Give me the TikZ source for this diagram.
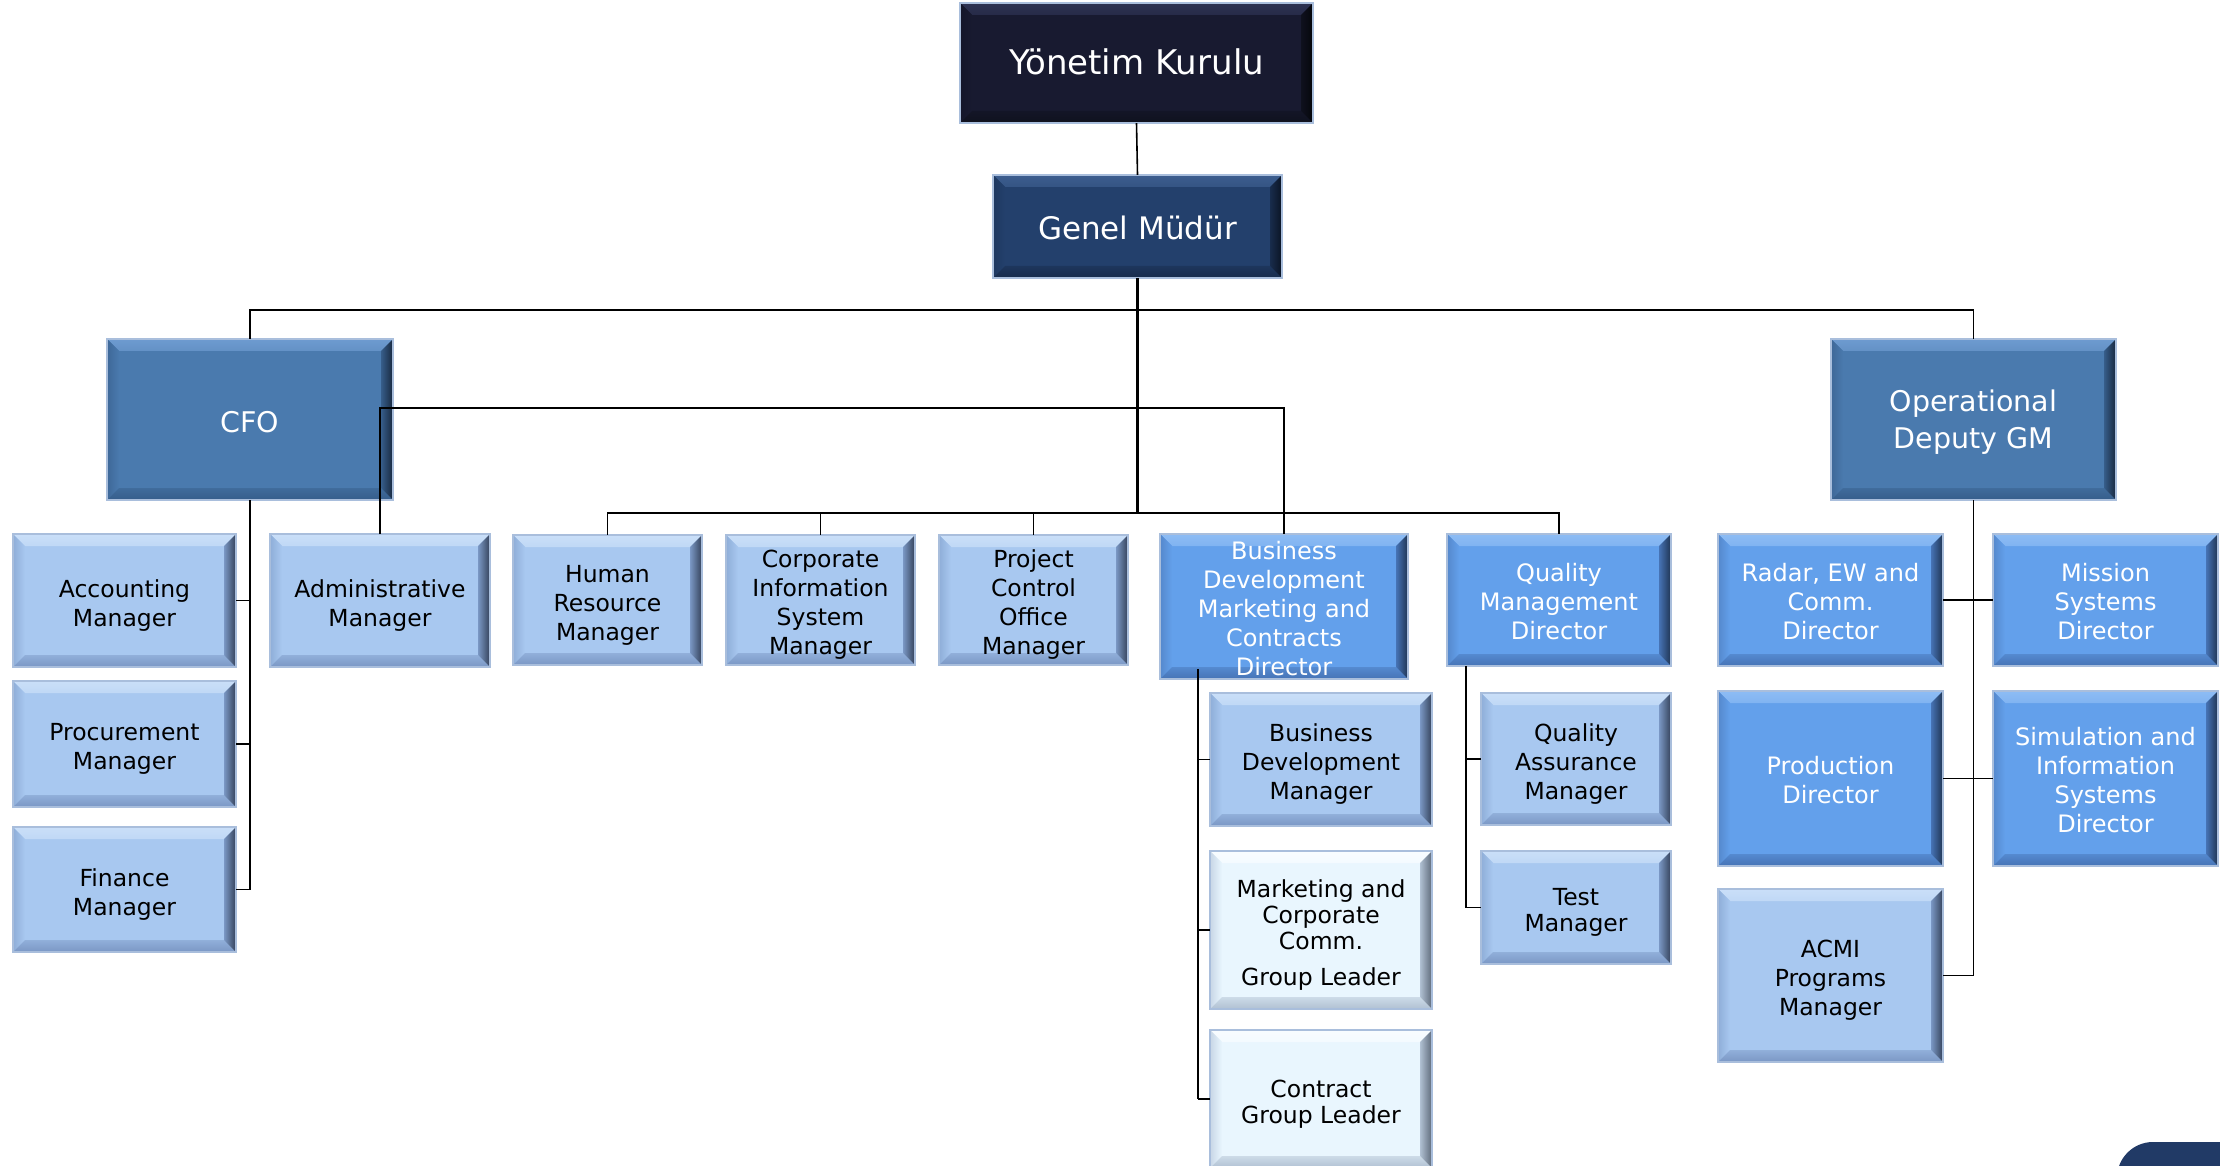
\documentclass[tikz,border=0pt]{standalone}
\usepackage{fontspec}
\setmainfont{DejaVu Sans}
\newcommand\mkcols[6]{%
  \definecolor{#1}{HTML}{#2}\definecolor{#1T}{HTML}{#3}%
  \definecolor{#1L}{HTML}{#4}\definecolor{#1B}{HTML}{#5}\definecolor{#1R}{HTML}{#6}}
\mkcols{yk}{181A30}{2D3252}{14162A}{0F111E}{05060B}
\mkcols{gm}{23406C}{3C5D8E}{1E3860}{182C4C}{0B1424}
\mkcols{md}{4A7AAE}{6E9BD0}{3E6898}{365D8A}{18283E}
\mkcols{lt}{A8C8F0}{CADFF8}{8FAED8}{7A97C4}{34425A}
\mkcols{bl}{63A0EB}{8DBCF4}{5588CC}{4673B5}{1F3452}
\mkcols{vl}{E9F6FE}{F8FCFF}{C8D6E6}{B0C0D2}{5E6A7A}
\definecolor{edgeC}{HTML}{A9BEDC}
\definecolor{navyC}{HTML}{213A66}
\def\bv{12}
% #1 name, #2 x1, #3 y1, #4 x2, #5 y2, #6 colour set, #7 text style, #8 text
\newcommand\bevbox[8]{%
  \fill[#6] (#2,#3) rectangle (#4,#5);
  \shade[top color=#6T, bottom color=#6T!70!#6] (#2,#3) -- (#4,#3) -- ({#4-\bv},{#3+\bv}) -- ({#2+\bv},{#3+\bv}) -- cycle;
  \shade[left color=#6L, right color=#6] (#2,#3) -- ({#2+\bv},{#3+\bv}) -- ({#2+\bv},{#5-\bv}) -- (#2,#5) -- cycle;
  \shade[top color=#6B!50!#6, bottom color=#6B] (#2,#5) -- ({#2+\bv},{#5-\bv}) -- ({#4-\bv},{#5-\bv}) -- (#4,#5) -- cycle;
  \shade[left color=#6B, right color=#6R] (#4,#3) -- ({#4-\bv},{#3+\bv}) -- ({#4-\bv},{#5-\bv}) -- (#4,#5) -- cycle;
  \draw[boxline] (#2,#3) rectangle (#4,#5);
  \node[boxnode, minimum width={#4-#2}, minimum height={#5-#3}] (#1) at ({(#2+#4)/2},{(#3+#5)/2}) {};
  \node[align=center, inner sep=0pt, #7] at (#1.center) {#8};
}
\tikzset{
  wire/.style={draw=black, line width=1.6pt},
  boxline/.style={draw=edgeC, line width=1.2pt},
  boxnode/.style={rectangle, inner sep=0pt},
  bigw/.style={text=white, font=\fontsize{34}{40}\selectfont, yshift=1pt},
  gmw/.style={text=white, font=\fontsize{31}{38}\selectfont, yshift=-1pt},
  midw/.style={text=white, font=\fontsize{28.5}{37}\selectfont, yshift=-3pt},
  wt/.style={text=white, font=\fontsize{24}{29}\selectfont, yshift=-2pt},
  bk/.style={text=black, font=\fontsize{23.5}{29}\selectfont, yshift=-5pt},
  bkt/.style={text=black, font=\fontsize{23.5}{26}\selectfont, yshift=-5pt},
}
\begin{document}
\begin{tikzpicture}[x=1pt,y=-1pt]
\useasboundingbox (0,0) rectangle (2220,1166);
\clip (0,0) rectangle (2220,1166);
\fill[white] (0,0) rectangle (2220,1166);

% top levels
\bevbox{yk}{960}{3}{1313}{123}{yk}{bigw}{Yönetim Kurulu}
\bevbox{gm}{993}{175}{1282}{278}{gm}{gmw}{Genel Müdür}
\bevbox{cfo}{107}{339}{393}{500}{md}{midw}{CFO}
\bevbox{odgm}{1831}{339}{2116}{500}{md}{midw}{Operational\\Deputy GM}

% CFO branch
\bevbox{acc}{13}{534}{236}{667}{lt}{bk}{Accounting\\Manager}
\bevbox{pro}{13}{681}{236}{807}{lt}{bk}{Procurement\\Manager}
\bevbox{fin}{13}{827}{236}{952}{lt}{bk}{Finance\\Manager}
\bevbox{adm}{270}{534}{490}{667}{lt}{bk}{Administrative\\Manager}

% middle row
\bevbox{hr}{513}{535}{702}{665}{lt}{bk}{Human\\Resource\\Manager}
\bevbox{cis}{726}{535}{915}{665}{lt}{bk}{Corporate\\Information\\System\\Manager}
\bevbox{pco}{939}{535}{1128}{665}{lt}{bk}{Project\\Control\\Office\\Manager}
\bevbox{bdd}{1160}{534}{1408}{679}{bl}{wt}{Business\\Development\\Marketing and\\Contracts\\Director}
\bevbox{qmd}{1447}{534}{1671}{666}{bl}{wt}{Quality\\Management\\Director}

% BD branch
\bevbox{bdm}{1210}{693}{1432}{826}{lt}{bk}{Business\\Development\\Manager}
\bevbox{mkt}{1210}{851}{1432}{1009}{vl}{bkt}{Marketing and\\Corporate\\Comm.\\[10pt]Group Leader}
\bevbox{ctr}{1210}{1030}{1432}{1168}{vl}{bkt}{Contract\\Group Leader}

% Quality branch
\bevbox{qam}{1481}{693}{1671}{825}{lt}{bk}{Quality\\Assurance\\Manager}
\bevbox{tst}{1481}{851}{1671}{964}{lt}{bkt}{Test\\Manager}

% Operational branch
\bevbox{rad}{1718}{534}{1943}{666}{bl}{wt}{Radar, EW and\\Comm.\\Director}
\bevbox{mis}{1993}{534}{2218}{666}{bl}{wt}{Mission\\Systems\\Director}
\bevbox{prod}{1718}{691}{1943}{866}{bl}{wt}{Production\\Director}
\bevbox{sim}{1993}{691}{2218}{866}{bl}{wt}{Simulation and\\Information\\Systems\\Director}
\bevbox{acmi}{1718}{889}{1943}{1062}{lt}{bk}{ACMI\\Programs\\Manager}

% corner shape
\fill[navyC, rounded corners=36pt] (2117,1142) rectangle (2320,1260);

% connectors
\coordinate (tb) at (0,310);
\coordinate (ab) at (0,408);
\coordinate (mb) at (0,513);
\coordinate (bdv) at (1198,669);
\coordinate (qv) at (1466,666);

\draw[wire] (yk.south) -- (gm.north);
\draw[wire, line width=2.4pt] (gm.south) -- (gm.south |- mb);
\draw[wire] (cfo.north) -- (cfo.north |- tb) -- (odgm.north |- tb) -- (odgm.north);
\draw[wire] (adm.north) -- (adm.north |- ab) -- (bdd.north |- ab) -- (bdd.north);
\draw[wire] (hr.north) -- (hr.north |- mb) -- (qmd.north |- mb) -- (qmd.north);
\draw[wire] (cis.north) -- (cis.north |- mb);
\draw[wire] (pco.north) -- (pco.north |- mb);

\draw[wire] (cfo.south) -- (cfo.south |- fin.east);
\draw[wire] (acc.east) -- (acc.east -| cfo.south);
\draw[wire] (pro.east) -- (pro.east -| cfo.south);
\draw[wire] (fin.east) -- (fin.east -| cfo.south);

\draw[wire] (bdv) -- (bdv |- ctr.west);
\draw[wire] (bdm.west) -- (bdm.west -| bdv);
\draw[wire] (mkt.west) -- (mkt.west -| bdv);
\draw[wire] (ctr.west) -- (ctr.west -| bdv);

\draw[wire] (qv) -- (qv |- tst.west);
\draw[wire] (qam.west) -- (qam.west -| qv);
\draw[wire] (tst.west) -- (tst.west -| qv);

\draw[wire] (odgm.south) -- (odgm.south |- acmi.east);
\draw[wire] (rad.east) -- (mis.west);
\draw[wire] (prod.east) -- (sim.west);
\draw[wire] (acmi.east) -- (acmi.east -| odgm.south);
\end{tikzpicture}
\end{document}
